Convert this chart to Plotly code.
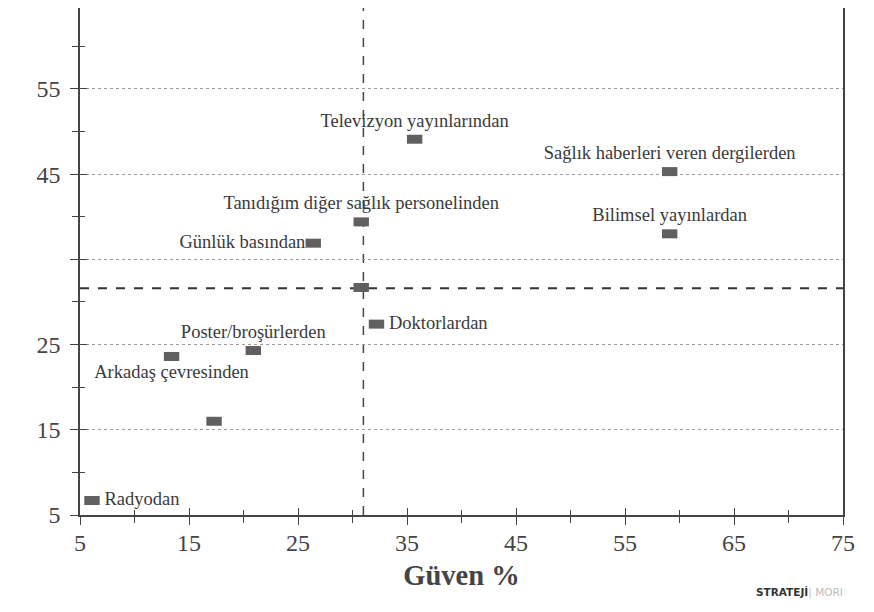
import plotly.graph_objects as go

labels = [" Radyodan", "Arkadaş çevresinden", "Poster/broşürlerden", "", "",
          " Doktorlardan", "Günlük basından", "Tanıdığım diğer sağlık personelinden",
          "Televizyon yayınlarından", "Sağlık haberleri veren dergilerden", "Bilimsel yayınlardan"]
guven = [6.1, 13.4, 20.9, 17.3, 30.8, 32.2, 26.4, 30.8, 35.7, 59.1, 59.1]
kullanim = [6.7, 23.6, 24.3, 16.0, 31.7, 27.4, 36.9, 39.4, 49.1, 45.3, 38.0]
label_pos = ["middle right", "bottom center", "top center", "top center", "top center",
             "middle right", "middle left", "top center", "top center", "top center", "top center"]

mean_x = 31.0
mean_y = 31.6

x_ticks = [5, 15, 25, 35, 45, 55, 65, 75]
x_minor = [10, 20, 30, 40, 50, 60, 70]
y_ticks = [5, 15, 25, 35, 45, 55]
y_minor = [10, 20, 30, 40, 50, 60]
y_ticktext = ["5", "15", "25", "", "45", "55"]

x_range = [5, 75]
y_range = [5, 64.5]

serif = "Liberation Serif, DejaVu Serif, serif"
axc = "#444444"

fig = go.Figure()
fig.add_trace(go.Scatter(
    x=guven, y=kullanim, mode="markers+text", text=labels, textposition=label_pos,
    textfont=dict(family=serif, size=18.5, color="#3a3a3a"),
    marker=dict(symbol="line-ew", size=11, line=dict(width=9, color="#606060")),
    hoverinfo="skip", showlegend=False, cliponaxis=False,
))
# invisible trace carrying the overlay axes (inner half of the crossing ticks)
fig.add_trace(go.Scatter(x=guven, y=kullanim, xaxis="x2", yaxis="y2", mode="markers",
                         marker=dict(opacity=0), hoverinfo="skip", showlegend=False))

fig.add_shape(type="line", xref="paper", yref="y", x0=0, x1=1, y0=mean_y, y1=mean_y,
              line=dict(color="#333333", width=2, dash="dash"), layer="below")
fig.add_shape(type="line", xref="x", yref="paper", x0=mean_x, x1=mean_x, y0=0, y1=1,
              line=dict(color="#444444", width=1.5, dash="dash"), layer="below")

fig.update_layout(
    xaxis=dict(range=x_range, tickvals=x_ticks, ticks="outside", ticklen=8, tickwidth=1.3,
               tickcolor=axc, showline=True, linecolor=axc, linewidth=1.5, mirror=True,
               showgrid=False, zeroline=False, ticklabelstandoff=-3,
               minor=dict(tickvals=x_minor, ticks="outside", ticklen=6, tickcolor=axc, showgrid=False),
               tickfont=dict(family=serif, size=24, color="#444"),
               title=dict(text="<b>Güven %</b>", font=dict(family=serif, size=28.5, color="#444"),
                          standoff=11)),
    yaxis=dict(range=y_range, tickvals=y_ticks, ticktext=y_ticktext, ticks="outside", ticklen=8,
               tickwidth=1.3, tickcolor=axc, showline=True, linecolor=axc, linewidth=1.5,
               mirror=True, showgrid=True, gridcolor="#9a9a9a", griddash="dot", gridwidth=1,
               zeroline=False, ticklabelstandoff=5,
               minor=dict(tickvals=y_minor, ticks="outside", ticklen=6, tickcolor=axc, showgrid=False),
               tickfont=dict(family=serif, size=24, color="#444")),
    xaxis2=dict(overlaying="x", range=x_range, tickvals=x_ticks, ticks="inside", ticklen=7,
                tickwidth=1.3, tickcolor=axc, showticklabels=False, showline=False,
                showgrid=False, zeroline=False, side="bottom",
                minor=dict(tickvals=x_minor, ticks="inside", ticklen=5, tickcolor=axc, showgrid=False)),
    yaxis2=dict(overlaying="y", range=y_range, tickvals=y_ticks, ticks="inside", ticklen=7,
                tickwidth=1.3, tickcolor=axc, showticklabels=False, showline=False,
                showgrid=False, zeroline=False, side="left",
                minor=dict(tickvals=y_minor, ticks="inside", ticklen=5, tickcolor=axc, showgrid=False)),
)

fig.add_annotation(xref="paper", yref="paper", x=1.003, y=-0.152, xanchor="right", yanchor="middle",
                   text="<b>STRATEJİ</b><span style='color:#bbb'>| MORI</span>", showarrow=False,
                   font=dict(family="DejaVu Sans", size=10.5, color="#333"))

fig.update_layout(width=874, height=612, margin=dict(l=72, r=39, t=0, b=105, autoexpand=False),
                  plot_bgcolor="white", paper_bgcolor="white")
fig.write_html("out.html")
